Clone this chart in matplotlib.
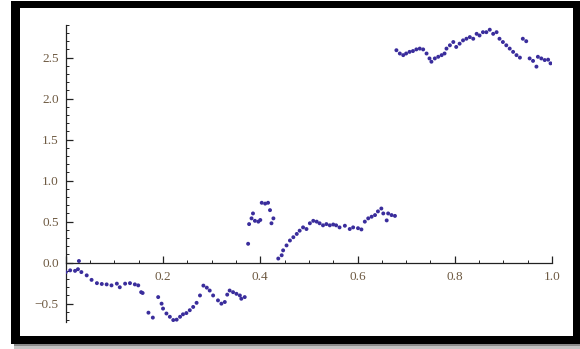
import matplotlib
matplotlib.use("Agg")
import matplotlib.pyplot as plt
from matplotlib.patches import Rectangle
from matplotlib.ticker import MultipleLocator, FuncFormatter

x_vals = [
    0.000, 0.009, 0.019, 0.025, 0.027, 0.032, 0.043, 0.053, 0.064, 0.074,
    0.084, 0.094, 0.105, 0.111, 0.122, 0.132, 0.142, 0.149, 0.155, 0.158,
    0.170, 0.179, 0.190, 0.197, 0.200, 0.207, 0.214, 0.221, 0.228, 0.235,
    0.241, 0.248, 0.255, 0.262, 0.269, 0.276, 0.283, 0.290, 0.296, 0.303,
    0.313, 0.320, 0.327, 0.332, 0.337, 0.344, 0.351, 0.358, 0.361, 0.368,
    0.375, 0.377, 0.382, 0.385, 0.389, 0.396, 0.400, 0.403, 0.410, 0.416,
    0.420, 0.423, 0.427,
    0.437, 0.444, 0.447, 0.454, 0.461, 0.468, 0.475, 0.481, 0.488, 0.495,
    0.502, 0.509, 0.516, 0.522, 0.529, 0.536, 0.543, 0.550, 0.556, 0.563,
    0.574, 0.584, 0.591, 0.601, 0.608, 0.615, 0.622, 0.629, 0.636, 0.642,
    0.649, 0.653, 0.660, 0.663, 0.670, 0.677,
    0.680, 0.687, 0.694, 0.700, 0.707, 0.714, 0.721, 0.728, 0.735, 0.742,
    0.748, 0.752, 0.759, 0.766, 0.773, 0.779, 0.783, 0.790, 0.797, 0.803,
    0.810, 0.817, 0.824, 0.831, 0.838, 0.845, 0.851, 0.858, 0.865, 0.872,
    0.879, 0.886, 0.892, 0.899, 0.906, 0.913, 0.920, 0.927, 0.934, 0.940,
    0.947, 0.954, 0.961, 0.968, 0.971, 0.978, 0.985, 0.992, 0.997,
]
y_vals = [
    -0.115, -0.094, -0.100, -0.080, 0.020, -0.115, -0.155, -0.210, -0.250, -0.260,
    -0.265, -0.277, -0.256, -0.300, -0.256, -0.250, -0.265, -0.277, -0.360, -0.370,
    -0.610, -0.670, -0.420, -0.500, -0.560, -0.620, -0.660, -0.700, -0.695, -0.660,
    -0.630, -0.615, -0.580, -0.540, -0.490, -0.400, -0.280, -0.305, -0.340, -0.400,
    -0.460, -0.500, -0.480, -0.390, -0.340, -0.360, -0.380, -0.400, -0.440, -0.420,
    0.230, 0.470, 0.540, 0.600, 0.510, 0.500, 0.520, 0.730, 0.720, 0.730,
    0.640, 0.480, 0.540,
    0.050, 0.090, 0.150, 0.210, 0.270, 0.310, 0.350, 0.390, 0.430, 0.410,
    0.480, 0.510, 0.500, 0.480, 0.455, 0.470, 0.455, 0.465, 0.455, 0.430,
    0.450, 0.410, 0.430, 0.420, 0.405, 0.500, 0.540, 0.560, 0.580, 0.625,
    0.660, 0.600, 0.515, 0.600, 0.580, 0.570,
    2.590, 2.550, 2.530, 2.550, 2.570, 2.580, 2.600, 2.610, 2.600, 2.550,
    2.490, 2.450, 2.490, 2.510, 2.530, 2.550, 2.610, 2.650, 2.690, 2.630,
    2.670, 2.710, 2.730, 2.750, 2.730, 2.790, 2.770, 2.810, 2.810, 2.840,
    2.790, 2.810, 2.730, 2.690, 2.650, 2.610, 2.570, 2.530, 2.500, 2.730,
    2.700, 2.490, 2.460, 2.390, 2.510, 2.490, 2.470, 2.475, 2.430,
]

W, H = 580, 349
fig = plt.figure(figsize=(W / 100, H / 100), dpi=100)
fig.patch.set_facecolor("white")


def px_rect(x0, y0, x1, y1, **kw):
    # rectangle given in picture pixels (origin top-left)
    fig.add_artist(Rectangle((x0 / W, 1 - y1 / H), (x1 - x0) / W, (y1 - y0) / H,
                             transform=fig.transFigure, **kw))


# frame with shadow, as in the screenshot
px_rect(14, 340, 580, 349, facecolor="#c4c4c4", edgecolor="none", zorder=0)
px_rect(14, 338, 580, 346, facecolor="#8a8a8a", edgecolor="none", zorder=0)
px_rect(11, 1, 580, 344, facecolor="black", edgecolor="none", zorder=0)
px_rect(20, 8, 573, 336, facecolor="white", edgecolor="none", zorder=0)

ax = fig.add_axes([65.8 / W, 1 - 321.7 / H, (552 - 65.8) / W, (321.7 - 24.8) / H])
ax.set_facecolor("none")
ax.set_xlim(0, 1.0)
ax.set_ylim(-0.72, 2.9)

ax.scatter(x_vals, y_vals, s=8, color="#3a2d9c", edgecolors="none", zorder=3)

for side in ["top", "right"]:
    ax.spines[side].set_visible(False)
ax.spines["left"].set_position(("data", 0))
ax.spines["bottom"].set_position(("data", 0))
for side in ["left", "bottom"]:
    ax.spines[side].set_linewidth(0.9)
    ax.spines[side].set_color("#222222")


def fmt_x(v, pos):
    if abs(v) < 1e-9:
        return ""
    return f"{v:.1f}"


def fmt_y(v, pos):
    return f"{v:.1f}".replace("-", "\u2212").replace("\u22120.0", "0.0")


ax.xaxis.set_major_locator(MultipleLocator(0.2))
ax.xaxis.set_minor_locator(MultipleLocator(0.05))
ax.yaxis.set_major_locator(MultipleLocator(0.5))
ax.yaxis.set_minor_locator(MultipleLocator(0.1))
ax.xaxis.set_major_formatter(FuncFormatter(fmt_x))
ax.yaxis.set_major_formatter(FuncFormatter(fmt_y))

ax.tick_params(which="major", direction="in", length=5, width=0.9, color="#222222",
               labelsize=9.5, labelcolor="#6e5a42")
ax.tick_params(which="minor", direction="in", length=2.5, width=0.7, color="#222222")
ax.tick_params(axis="x", pad=6)
ax.tick_params(axis="y", pad=5)
for lab in ax.get_xticklabels() + ax.get_yticklabels():
    lab.set_family("Liberation Serif")

fig.savefig("out.png", dpi=100)
